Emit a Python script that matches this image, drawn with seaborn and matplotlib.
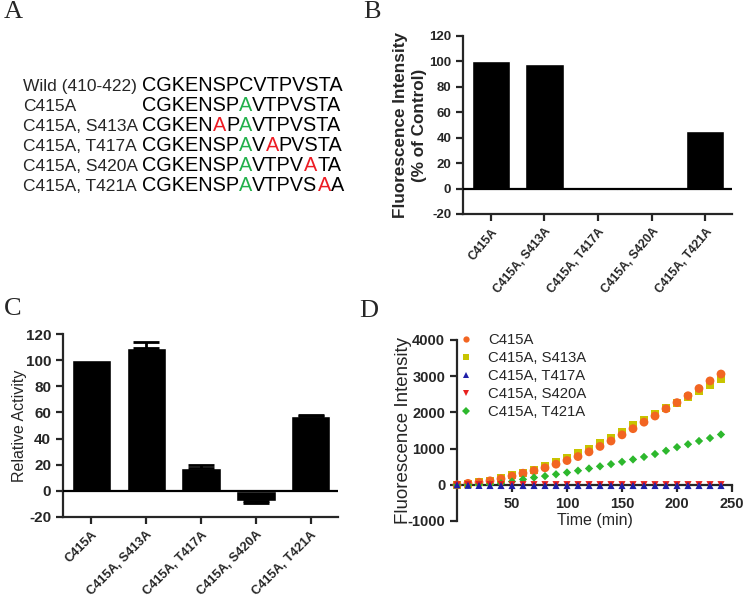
import matplotlib
matplotlib.use("Agg")
import matplotlib.pyplot as plt
from matplotlib.lines import Line2D
import numpy as np
import pandas as pd
import seaborn as sns

sns.set_style("ticks")
plt.rcParams['font.family'] = ['Liberation Sans', 'DejaVu Sans']

# ---------------- data ----------------
# Panel A: peptide sequences (segments with colour keys)
seq_labels = ['Wild (410-422)', 'C415A', 'C415A, S413A', 'C415A, T417A',
              'C415A, S420A', 'C415A, T421A']
seq_segments = [
    [('CGKENSPCVTPVSTA', 'k')],
    [('CGKENSP', 'k'), ('A', 'g'), ('VTPVSTA', 'k')],
    [('CGKEN', 'k'), ('A', 'r'), ('P', 'k'), ('A', 'g'), ('VTPVSTA', 'k')],
    [('CGKENSP', 'k'), ('A', 'g'), ('V', 'k'), ('A', 'r'), ('PVSTA', 'k')],
    [('CGKENSP', 'k'), ('A', 'g'), ('VTPV', 'k'), ('A', 'r'), ('TA', 'k')],
    [('CGKENSP', 'k'), ('A', 'g'), ('VTPVS', 'k'), ('A', 'r'), ('A', 'k')],
]
seq_colors = {'k': 'black', 'g': '#22B14C', 'r': '#ED1C24'}

# Panels B, C: bar charts
mutants = ['C415A', 'C415A, S413A', 'C415A, T417A', 'C415A, S420A', 'C415A, T421A']
fluor_pct = [100.5, 98.0, -1.0, -1.5, 45.0]
rel_activity = [100.0, 109.0, 17.5, -8.0, 57.0]
rel_activity_err = [0.0, 5.0, 2.5, 1.3, 1.3]

# Panel D: time course
time_min = [0, 10, 20, 30, 40, 50, 60, 70, 80, 90, 100, 110, 120, 130, 140,
            150, 160, 170, 180, 190, 200, 210, 220, 230, 240]
fi_C415A = [0, 40, 70, 110, 165, 240, 320, 390, 470, 570, 670, 780, 910, 1060,
            1210, 1380, 1550, 1730, 1900, 2100, 2270, 2460, 2660, 2870, 3060]
fi_S413A = [0, 30, 70, 115, 175, 260, 330, 420, 510, 620, 740, 870, 1000, 1150,
            1300, 1470, 1640, 1800, 1960, 2110, 2270, 2430, 2600, 2770, 2920]
fi_T417A = [0, -15, -18, -20, -20, -20, -20, -20, -20, -20, -20, -20, -20, -20,
            -20, -20, -20, -20, -20, -20, -20, -20, -20, -20, -20]
fi_S420A = [0, 5, 5, 5, 5, 5, 5, 5, 5, 5, 5, 5, 5, 5,
            5, 5, 5, 5, 5, 5, 5, 5, 5, 5, 5]
fi_T421A = [0, 0, 5, 15, 40, 90, 150, 200, 240, 290, 340, 390, 450, 510, 570,
            635, 700, 770, 850, 940, 1040, 1120, 1210, 1290, 1390]

series_names = ['C415A', 'C415A, S413A', 'C415A, T417A', 'C415A, S420A', 'C415A, T421A']
series_colors = ['#F26522', '#C8C400', '#1F1FA8', '#E8201E', '#2DB82D']
series_markers = ['o', 's', '^', 'v', 'D']
series_sizes = [40, 34, 26, 26, 18]

# ---------------- figure ----------------
W, H = 746, 600
fig = plt.figure(figsize=(W / 100, H / 100), dpi=100)
fig.patch.set_facecolor('white')


def fx(px):
    return px / W


def fy(py):
    return 1 - py / H


# full-figure helper axes for text
tax = fig.add_axes([0, 0, 1, 1])
tax.set_axis_off()
tax.set_xlim(0, 1)
tax.set_ylim(0, 1)

panel_font = dict(family=['Liberation Serif', 'DejaVu Serif'], fontsize=19, va='top')
fig.text(fx(4), fy(1), 'A', **panel_font)
fig.text(fx(363), fy(1), 'B', **panel_font)
fig.text(fx(4), fy(298), 'C', **panel_font)
fig.text(fx(359), fy(300), 'D', **panel_font)

# Panel A text
for i, (lab, segs) in enumerate(zip(seq_labels, seq_segments)):
    yb = fy(91 + 20 * i)
    tax.text(fx(23), yb, lab, fontsize=12.5, va='baseline', ha='left')
    prev = None
    for txt, ck in segs:
        if prev is None:
            prev = tax.text(fx(142), yb, txt, fontsize=14.3, va='baseline',
                            ha='left', color=seq_colors[ck])
        else:
            prev = tax.annotate(txt, xy=(1, 0), xycoords=prev, va='bottom',
                                ha='left', fontsize=14.3, color=seq_colors[ck])

tick_font = dict(fontweight='bold')


def style_bar_axes(ax, tsize, csize, rot):
    sns.despine(ax=ax)
    for s in ['left', 'bottom']:
        ax.spines[s].set_linewidth(1.6)
    ax.tick_params(axis='both', direction='out', length=5, width=1.6)
    ax.set_ylim(-20, 120)
    ax.set_yticks([-20, 0, 20, 40, 60, 80, 100, 120])
    ax.set_yticklabels(['-20', '0', '20', '40', '60', '80', '100', '120'],
                       fontsize=tsize, **tick_font)
    ax.set_xlim(-0.52, 4.5)
    ax.set_xticks(range(len(mutants)))
    ax.set_xticklabels(mutants, rotation=rot, ha='right', rotation_mode='anchor',
                       fontsize=csize, **tick_font)
    ax.set_xlabel('')
    ax.axhline(0, color='black', lw=1.6, zorder=3)


# Panel B
axB = fig.add_axes([fx(463), fy(214), fx(732) - fx(463), (214 - 36) / H])
dfB = pd.DataFrame({'mutant': mutants, 'value': fluor_pct})
sns.barplot(data=dfB, x='mutant', y='value', color='black', saturation=1,
            width=0.72, errorbar=None, ax=axB)
style_bar_axes(axB, 9.5, 8.7, 50)
axB.set_ylabel('Fluorescence Intensity\n(% of Control)', fontsize=12.3,
               fontweight='bold', va='center', linespacing=1.35)
axB.yaxis.set_label_coords(-0.197, 0.5)

# Panel C
axC = fig.add_axes([fx(63), fy(517), fx(338) - fx(63), (517 - 334) / H])
dfC = pd.DataFrame({'mutant': mutants, 'value': rel_activity})
sns.barplot(data=dfC, x='mutant', y='value', color='black', saturation=1,
            width=0.72, errorbar=None, ax=axC)
style_bar_axes(axC, 11, 9.2, 45)
lo = [e if v < 0 else 0 for v, e in zip(rel_activity, rel_activity_err)]
hi = [e if v >= 0 else 0 for v, e in zip(rel_activity, rel_activity_err)]
idx = [i for i, e in enumerate(rel_activity_err) if e > 0]
axC.errorbar([i for i in idx], [rel_activity[i] for i in idx],
             yerr=[[lo[i] for i in idx], [hi[i] for i in idx]],
             fmt='none', ecolor='black', elinewidth=2, capsize=9.5, capthick=2,
             zorder=4)
axC.set_ylabel('Relative Activity', fontsize=11.5, va='center')
axC.yaxis.set_label_coords(-0.158, 0.5)

# Panel D
axD = fig.add_axes([fx(457), fy(521), fx(732) - fx(457), (521 - 340) / H])
series_vals = [fi_C415A, fi_S413A, fi_T417A, fi_S420A, fi_T421A]
draw_order = [1, 0, 4, 3, 2]
for k in draw_order:
    sns.scatterplot(x=time_min, y=series_vals[k], color=series_colors[k],
                    marker=series_markers[k], s=series_sizes[k], linewidth=0,
                    edgecolor='none', ax=axD, clip_on=False, zorder=5)
axD.set_xlim(0, 250)
axD.set_ylim(-1000, 4000)
sns.despine(ax=axD)
axD.spines['bottom'].set_position(('data', 0))
for s in ['left', 'bottom']:
    axD.spines[s].set_linewidth(1.6)
axD.tick_params(axis='both', direction='out', length=5, width=1.6)
axD.set_xticks([50, 100, 150, 200, 250])
axD.set_xticklabels(['50', '100', '150', '200', '250'], fontsize=10.5, **tick_font)
axD.set_yticks([-1000, 0, 1000, 2000, 3000, 4000])
axD.set_yticklabels(['-1000', '0', '1000', '2000', '3000', '4000'],
                    fontsize=10.5, **tick_font)
axD.set_xlabel('Time (min)', fontsize=11.5, va='center')
axD.xaxis.set_label_coords(0.5, 0.0)
axD.set_ylabel('Fluorescence Intensity', fontsize=13.5, va='center')
axD.yaxis.set_label_coords(-0.196, 0.5)

handles = [Line2D([], [], ls='none', marker=m, color=c, markersize=4.5,
                  markeredgewidth=0)
           for m, c in zip(series_markers, series_colors)]
axD.legend(handles, series_names, loc='upper left', bbox_to_anchor=(0.006, 1.04),
           frameon=False, fontsize=10.7, handlelength=1.0, handletextpad=1.0,
           labelspacing=0.28, borderaxespad=0, borderpad=0)

fig.savefig('out.png', dpi=100, facecolor='white')
